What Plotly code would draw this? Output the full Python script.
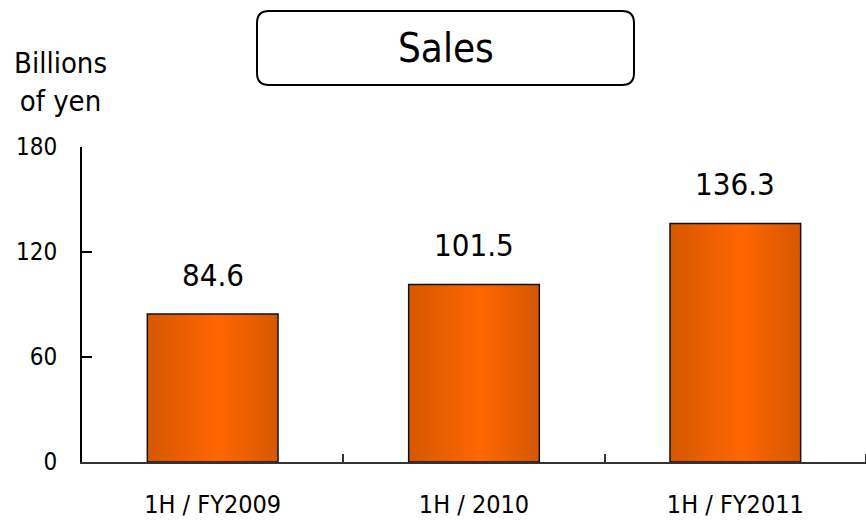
import plotly.graph_objects as go

categories = ["1H / FY2009", "1H / 2010", "1H / FY2011"]
sales = [84.6, 101.5, 136.3]
value_labels = ["84.6", "101.5", "136.3"]
y_ticks = [0, 60, 120, 180]
title_text = "Sales"
unit_text = "Billions<br>of yen"

W, H = 866, 521
L, R, T, B = 82, 0, 147, 59
BAR_HALF = 0.25
FONT = "DejaVu Sans Condensed, Liberation Sans Narrow, Arial Narrow, sans-serif"
EDGE, MID = "#D65800", "#FF6600"


def px_x(p):
    return (p - L) / (W - L - R)


def px_y(p):
    return (H - B - p) / (H - T - B)


fig = go.Figure()
for i, (c, v) in enumerate(zip(categories, sales)):
    fig.add_trace(go.Scatter(
        x=[i - BAR_HALF, i + BAR_HALF, i + BAR_HALF, i - BAR_HALF, i - BAR_HALF],
        y=[0, 0, v, v, 0],
        mode="lines", fill="toself",
        fillgradient=dict(type="horizontal",
                          colorscale=[[0, EDGE], [0.55, MID], [1, EDGE]]),
        line=dict(color="#111111", width=1.5),
        name=c, showlegend=False, hoverinfo="skip"))

for i, (v, t) in enumerate(zip(sales, value_labels)):
    fig.add_annotation(x=i, y=v, text=t, showarrow=False, yanchor="middle",
                       yshift=39, font=dict(size=31, color="black", family=FONT))

fig.update_xaxes(
    range=[-0.5, 2.5], tickmode="array", tickvals=list(range(len(categories))),
    ticktext=categories, ticks="", showline=True, linecolor="#333333", linewidth=1.5,
    showgrid=False, zeroline=False, ticklabelstandoff=19, automargin=False,
    tickfont=dict(size=25, color="black", family=FONT),
    minor=dict(tickvals=[0.5, 1.5, 2.5], ticks="inside", ticklen=8,
               tickwidth=1.5, tickcolor="#333333", showgrid=False))
fig.update_yaxes(
    range=[0, 180], tickmode="array", tickvals=y_ticks, ticks="inside",
    ticklen=10, tickwidth=2, tickcolor="black", showline=True, linecolor="black",
    linewidth=2, showgrid=False, zeroline=False, ticklabelstandoff=18,
    automargin=False,
    tickfont=dict(size=24, color="black", family=FONT))

# rounded title box
x0, x1 = px_x(257), px_x(634)
y0, y1 = px_y(85), px_y(11)
rx, ry = 12 / (W - L - R), 12 / (H - T - B)
path = (f"M {x0 + rx},{y1} L {x1 - rx},{y1} Q {x1},{y1} {x1},{y1 - ry} "
        f"L {x1},{y0 + ry} Q {x1},{y0} {x1 - rx},{y0} "
        f"L {x0 + rx},{y0} Q {x0},{y0} {x0},{y0 + ry} "
        f"L {x0},{y1 - ry} Q {x0},{y1} {x0 + rx},{y1} Z")
fig.add_shape(type="path", path=path, xref="paper", yref="paper",
              line=dict(color="black", width=2), fillcolor="white")
fig.add_annotation(x=(x0 + x1) / 2, y=(y0 + y1) / 2, xref="paper", yref="paper",
                   text=title_text, showarrow=False, xanchor="center", yanchor="middle",
                   font=dict(size=40, color="black", family=FONT))
fig.add_annotation(x=px_x(60), y=px_y(82), xref="paper", yref="paper",
                   text=unit_text, showarrow=False, xanchor="center", yanchor="middle",
                   align="center",
                   font=dict(size=29, color="black", family=FONT))

fig.update_layout(
    width=W, height=H, margin=dict(l=L, r=R, t=T, b=B),
    paper_bgcolor="white", plot_bgcolor="white", showlegend=False,
    font=dict(family=FONT, color="black"))

fig.write_html("out.html")
